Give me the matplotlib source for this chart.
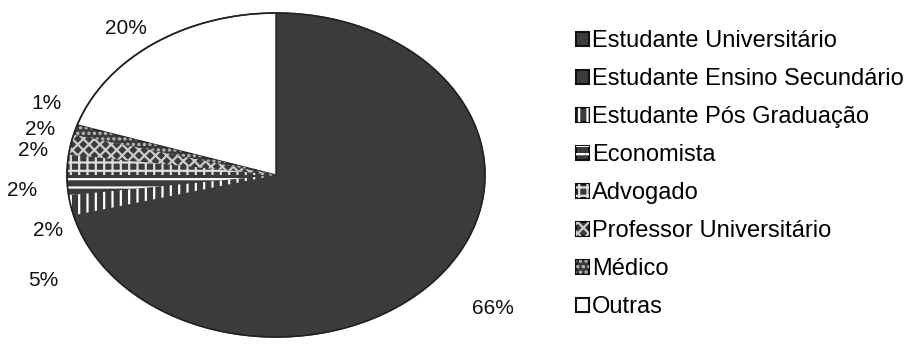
import matplotlib
matplotlib.use('Agg')
import matplotlib.pyplot as plt
from matplotlib.patches import Patch

plt.rcParams['font.family'] = ['Liberation Sans', 'DejaVu Sans']
plt.rcParams['hatch.linewidth'] = 1.6

# Data
categories = ['Estudante Universitário', 'Estudante Ensino Secundário',
              'Estudante Pós Graduação', 'Economista', 'Advogado',
              'Professor Universitário', 'Médico', 'Outras']
values = [66, 5, 2, 2, 2, 2, 1, 20]
pct_labels = ['66%', '5%', '2%', '2%', '2%', '2%', '1%', '20%']

# Styles
dark = '#3b3b3b'
faces = [dark, dark, dark, dark, dark, dark, dark, 'white']
edges = [dark, dark, dark, dark, dark, dark, dark, '#222222']
hatches = [None, None, '||', '--', '++', 'xxx', '...', None]
hatch_cols = ['#4a4a4a', '#4a4a4a', 'white', 'white', '#dddddd', '#cccccc', '#bbbbbb', 'black']

# label positions in pixels (x, y from top)
label_pos = [(493, 308), (43, 281), (48, 230), (22, 190), (33, 150),
             (40, 130), (46, 103), (126, 28)]

W, H = 921, 349
fig = plt.figure(figsize=(W / 100, H / 100), dpi=100)
fig.patch.set_facecolor('white')

# elliptical pie: axes spans the ellipse box
left, right, top, bottom = 67, 485, 13, 337
ax = fig.add_axes([left / W, 1 - bottom / H, (right - left) / W, (bottom - top) / H])

wedges, _ = ax.pie(values, startangle=90, counterclock=False, colors=faces,
                   wedgeprops=dict(linewidth=1.0))
for w, e in zip(wedges, edges):
    w.set_edgecolor(e)
hatch_wedges, _ = ax.pie(values, startangle=90, counterclock=False,
                         wedgeprops=dict(facecolor='none', linewidth=0))
for hw, h, c in zip(hatch_wedges, hatches, hatch_cols):
    if h:
        hw.set_hatch(h)
        hw.set_edgecolor(c)
# outline of the whole pie
outline, _ = ax.pie([1], wedgeprops=dict(facecolor='none', edgecolor='#222222', linewidth=1.2))
ax.set_aspect('auto')
ax.set_xlim(-1, 1)
ax.set_ylim(-1, 1)
ax.axis('off')

for (px, py), t in zip(label_pos, pct_labels):
    fig.text(px / W, 1 - py / H, t, ha='center', va='center', fontsize=15, color='#111111')

# legend
handles = []
for f, h, c in zip(faces, hatches, hatch_cols):
    base = Patch(facecolor=f, edgecolor='#111111', linewidth=1.5)
    if h:
        handles.append((base, Patch(facecolor='none', edgecolor=c, hatch=h, linewidth=0)))
    else:
        handles.append(base)
fig.legend(handles, categories, loc='upper left', bbox_to_anchor=(576 / W, 1 - 30 / H),
           frameon=False, fontsize=17, handlelength=0.55, handleheight=0.55,
           handletextpad=0.12, labelspacing=0.68, borderpad=0, borderaxespad=0)

fig.savefig('out.png', dpi=100, facecolor='white')
